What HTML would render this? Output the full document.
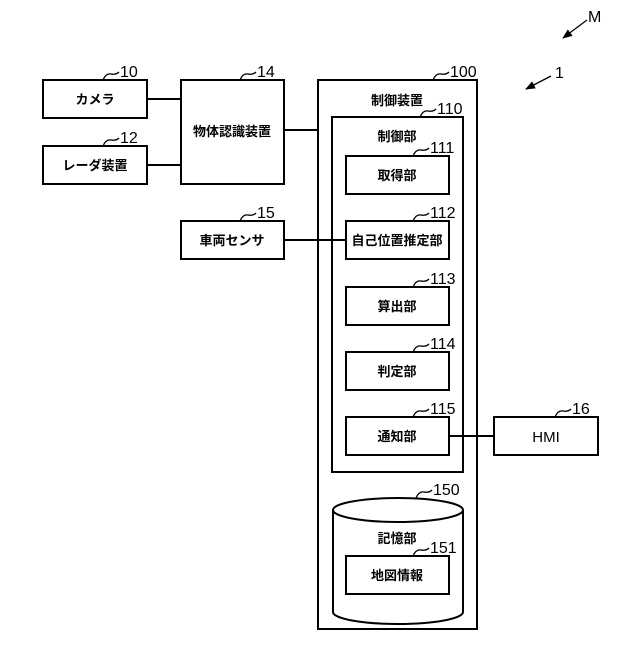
<!DOCTYPE html>
<html><head><meta charset="utf-8"><style>
body{margin:0;background:#fff}
svg text{font-family:"Liberation Sans","Noto Sans CJK JP",sans-serif;fill:#000}
.b{font-size:13px;text-anchor:middle;font-weight:bold}
.n{font-size:16px;font-family:"Liberation Sans",sans-serif}
</style></head><body>
<svg width="640" height="640" viewBox="0 0 640 640" xmlns="http://www.w3.org/2000/svg">
<defs><marker id="a" markerWidth="10" markerHeight="8" refX="9" refY="4" orient="auto" markerUnits="userSpaceOnUse"><path d="M0,0 L10,4 L0,8 z" fill="#000"/></marker></defs>
<g fill="none" stroke="#000" stroke-width="2">
<rect x="43" y="80" width="104" height="38"/>
<rect x="43" y="146" width="104" height="38"/>
<rect x="181" y="80" width="103" height="104"/>
<rect x="181" y="221" width="103" height="38"/>
<rect x="318" y="80" width="159" height="549"/>
<rect x="332" y="117" width="131" height="355"/>
<rect x="346" y="156" width="103" height="38"/>
<rect x="346" y="221" width="103" height="38"/>
<rect x="346" y="287" width="103" height="38"/>
<rect x="346" y="352" width="103" height="38"/>
<rect x="346" y="417" width="103" height="38"/>
<rect x="494" y="417" width="104" height="38"/>
<path d="M147,99H181M147,165H181M284,130H318M284,240H346M449,436H494"/>
<path d="M333,510 V612 A65,12 0 0 0 463,612 V510"/>
<ellipse cx="398" cy="510" rx="65" ry="12"/>
<rect x="346" y="556" width="103" height="38"/>
</g>
<g fill="none" stroke="#000" stroke-width="1.3">
<path d="M103,80 q3,-7 8,-6 t8,-2"/>
<path d="M103,146 q3,-7 8,-6 t8,-2"/>
<path d="M240,80 q3,-7 8,-6 t8,-2"/>
<path d="M240,221 q3,-7 8,-6 t8,-2"/>
<path d="M433,80 q3,-7 8,-6 t8,-2"/>
<path d="M420,117 q3,-7 8,-6 t8,-2"/>
<path d="M413,156 q3,-7 8,-6 t8,-2"/>
<path d="M413,221 q3,-7 8,-6 t8,-2"/>
<path d="M413,287 q3,-7 8,-6 t8,-2"/>
<path d="M413,352 q3,-7 8,-6 t8,-2"/>
<path d="M413,417 q3,-7 8,-6 t8,-2"/>
<path d="M555,417 q3,-7 8,-6 t8,-2"/>
<path d="M416,498 q3,-7 8,-6 t8,-2"/>
<path d="M413,556 q3,-7 8,-6 t8,-2"/>
<path d="M587,20 L563,38" marker-end="url(#a)"/>
<path d="M551,76 L526,89" marker-end="url(#a)"/>
</g>
<g class="n">
<text x="120" y="77">10</text><text x="120" y="143">12</text>
<text x="257" y="77">14</text><text x="257" y="218">15</text>
<text x="450" y="77">100</text><text x="437" y="114">110</text>
<text x="430" y="153">111</text><text x="430" y="218">112</text>
<text x="430" y="284">113</text><text x="430" y="349">114</text>
<text x="430" y="414">115</text><text x="572" y="414">16</text>
<text x="433" y="495">150</text><text x="430" y="553">151</text>
<text x="588" y="22">M</text><text x="555" y="78">1</text>
</g>
<g class="b">
<text x="95" y="104">カメラ</text>
<text x="95" y="170">レーダ装置</text>
<text x="232" y="136">物体認識装置</text>
<text x="232" y="245">車両センサ</text>
<text x="397" y="105">制御装置</text>
<text x="397" y="141">制御部</text>
<text x="397" y="180">取得部</text>
<text x="397" y="245">自己位置推定部</text>
<text x="397" y="311">算出部</text>
<text x="397" y="376">判定部</text>
<text x="397" y="441">通知部</text>
<text x="546" y="442" style="font-weight:normal;font-size:15px">HMI</text>
<text x="397" y="543">記憶部</text>
<text x="397" y="580">地図情報</text>
</g>
</svg>
</body></html>
